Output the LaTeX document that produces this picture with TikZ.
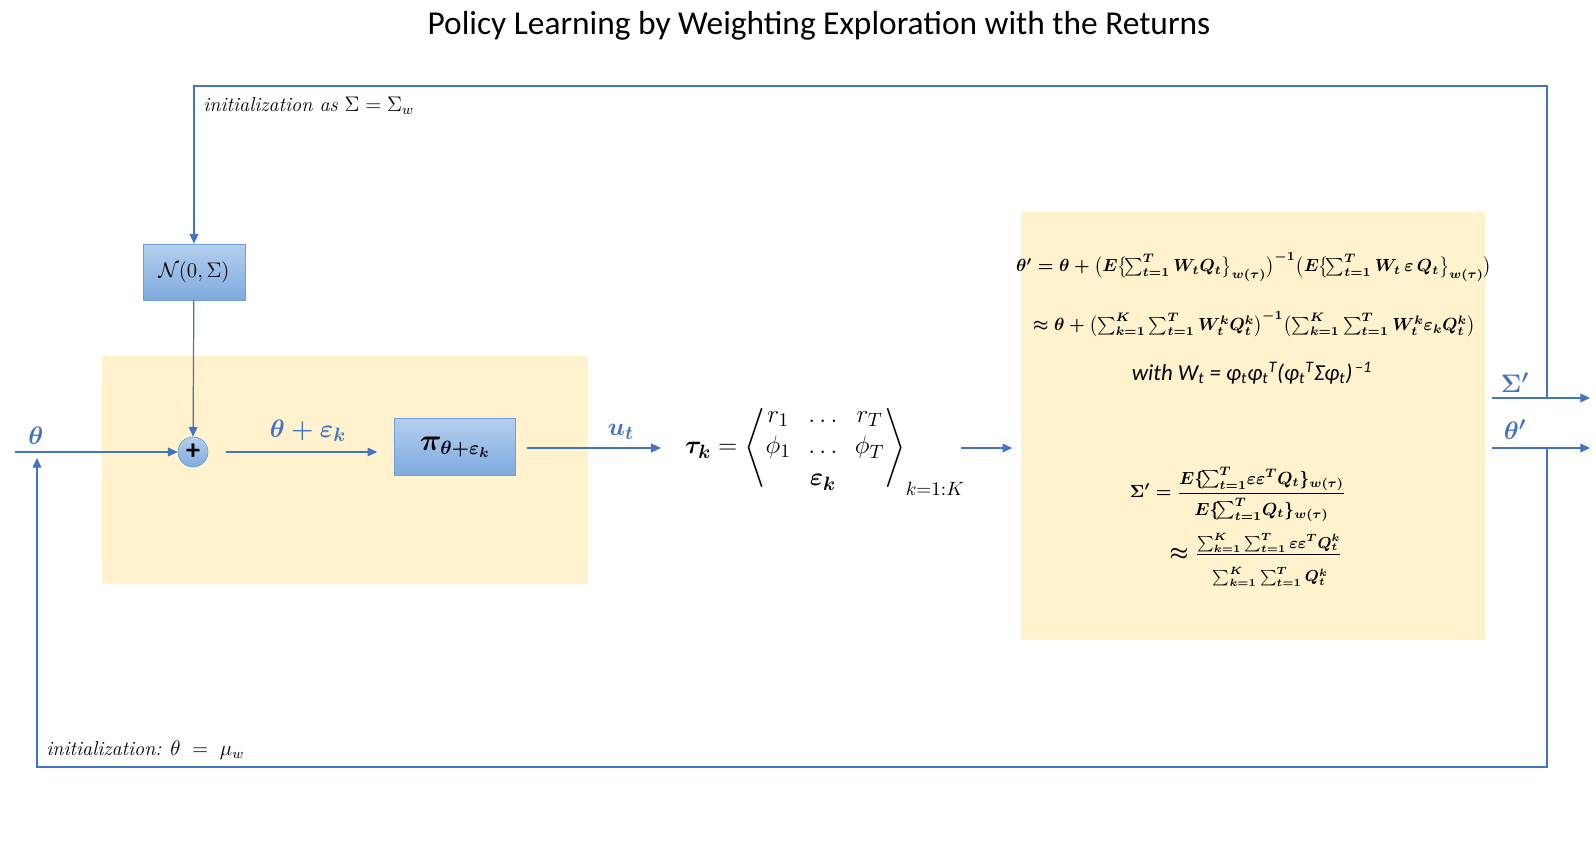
\documentclass[tikz,border=0pt]{standalone}
\usepackage{amsmath,amssymb,bm}
\usepackage{fontspec}
\newfontfamily\titlefont{Carlito}
\usetikzlibrary{arrows.meta,positioning}
\definecolor{lineblue}{HTML}{4472C4}
\definecolor{panelyellow}{HTML}{FFF2CC}
\definecolor{boxtop}{HTML}{B4CFEE}
\definecolor{boxbot}{HTML}{7FAADF}
\definecolor{boxedge}{HTML}{6F9FD8}

\begin{document}
\begin{tikzpicture}[x=0.02cm, y=-0.02cm, >={Triangle[length=5.5pt,width=5pt]}]
		% Define styles
		\tikzstyle{panel} = [rectangle, fill=panelyellow, inner sep=0pt]
		\tikzstyle{bluebox} = [rectangle, draw=boxedge, top color=boxtop, bottom color=boxbot, inner sep=0pt]
		\tikzstyle{flow} = [draw=lineblue, line width=0.7pt]
		\tikzstyle{siglabel} = [text=lineblue, font=\fontsize{15}{18}\selectfont\boldmath]
		\tikzstyle{formula} = [font=\fontsize{10}{12}\selectfont\boldmath]
		\tikzstyle{note} = [font=\fontsize{11.5}{14}\selectfont, anchor=west, inner sep=0pt]
		
		\useasboundingbox (0,0) rectangle (1596,868);
		
		% Title
		\node (title) at (819,26) {\titlefont\fontsize{19}{23}\selectfont Policy Learning by Weighting Exploration with the Returns};
		
		% Panels
		\node[panel, minimum width=9.72cm, minimum height=4.58cm] (explore) at (345,470) {};
		\node[panel, minimum width=9.3cm, minimum height=8.58cm] (update) at (1253,426) {};
		
		% Nodes
		\node[bluebox, minimum width=2.04cm, minimum height=1.12cm, font=\fontsize{12}{14}\selectfont] (noise) at (194,272) {$\mathcal{N}(0,\Sigma)$};
		\node[circle, draw=boxedge, top color=boxtop, bottom color=boxbot, minimum size=0.6cm, inner sep=0pt, font=\titlefont\bfseries\fontsize{16}{16}\selectfont] (sum) at (193,452) {+};
		\node[bluebox, minimum width=2.42cm, minimum height=1.14cm, font=\fontsize{16}{18}\selectfont\boldmath] (policy) at (455,447) {$\pi_{\theta+\varepsilon_k}$};
		\node[font=\fontsize{15}{18}\selectfont] (traj) at (825,448) {$\bm{\tau_k} = \left\langle\begin{matrix} r_1 & \ldots & r_T\\ \phi_1 & \ldots & \phi_T\\ & \bm{\varepsilon_k} & \end{matrix}\right\rangle_{k=1:K}$};
		
		% Formulas
		\node[formula] (thupd) at (1254,267) {$\theta' = \theta + \bigl(E\bigl\{\!\sum_{t=1}^{T} W_t Q_t\bigr\}_{w(\tau)}\bigr)^{-1}\bigl(E\bigl\{\!\sum_{t=1}^{T} W_t\,\varepsilon\,Q_t\bigr\}_{w(\tau)}\bigr)$};
		\node[formula] (thapp) at (1254,324) {$\approx \theta + \bigl(\sum_{k=1}^{K}\sum_{t=1}^{T} W_t^k Q_t^k\bigr)^{-1}\bigl(\sum_{k=1}^{K}\sum_{t=1}^{T} W_t^k \varepsilon_k Q_t^k\bigr)$};
		\node[font=\titlefont\itshape\fontsize{13}{16}\selectfont] (weight) at (1252,373) {with W\textsubscript{t} = φ\textsubscript{t}φ\textsubscript{t}\textsuperscript{T}(φ\textsubscript{t}\textsuperscript{T}Σφ\textsubscript{t})\textsuperscript{\,–1}};
		\node[formula] (sigupd) at (1238,494) {$\Sigma' = \dfrac{E\{\!\sum_{t=1}^{T}\! \varepsilon\varepsilon^T Q_t\}_{w(\tau)}}{\rule{0pt}{2.6ex}E\{\!\sum_{t=1}^{T}\! Q_t\}_{w(\tau)}}$};
		\node[formula, font=\fontsize{12.5}{15}\selectfont\boldmath] (sigapp) at (1256,560) {$\approx \frac{\sum_{k=1}^{K}\sum_{t=1}^{T} \varepsilon\varepsilon^T Q_t^k}{\rule{0pt}{2.8ex}\sum_{k=1}^{K}\sum_{t=1}^{T} Q_t^k}$};
		
		% Coordinates
		\coordinate (thin) at (15,452);
		\coordinate (sigout) at (1547,398);
		\coordinate (thout) at (1547,448);
		\coordinate (sigend) at (1590,398);
		\coordinate (thend) at (1590,448);
		\coordinate (top) at (1547,86);
		\coordinate (bot) at (1547,767);
		\coordinate (thback) at (37,458);
		
		% Arrows
		\draw[flow,->] (thin) -- (sum);
		\draw[flow,->] (noise) -- (sum);
		\draw[flow,->, shorten <=0.35cm, shorten >=0.34cm] (sum.east) -- (sum.east -| policy.west);
		\draw[flow,->, shorten <=0.22cm, shorten >=0.36cm] (policy.east |- traj) -- (traj.west);
		\draw[flow,->, shorten <=-0.2cm, shorten >=0.16cm] (traj.east) -- (update.west |- traj);
		\draw[flow,->, shorten <=0.12cm] (update.east |- sigout) -- (sigend);
		\draw[flow,->, shorten <=0.12cm] (update.east |- thout) -- (thend);
		\draw[flow,->] (sigout) -- (top) -| (noise.north);
		\draw[flow,->] (thout) -- (bot) -| (thback);
		
		% Labels
		\node[siglabel] (thlab) at (36,436) {$\theta$};
		\node[siglabel] (pertlab) at (308,431) {$\theta+\varepsilon_k$};
		\node[siglabel] (ulab) at (621,432) {$u_t$};
		\node[siglabel] (siglab) at (1515,383) {$\Sigma'$};
		\node[siglabel] (thplab) at (1515,430) {$\theta'$};
		\node[note] (initsig) at (203,106) {\textit{initialization as} $\Sigma=\Sigma_w$};
		\node[note] (initth) at (46,750) {\textit{initialization:} $\theta\;=\;\mu_w$};
	\end{tikzpicture}
\end{document}
